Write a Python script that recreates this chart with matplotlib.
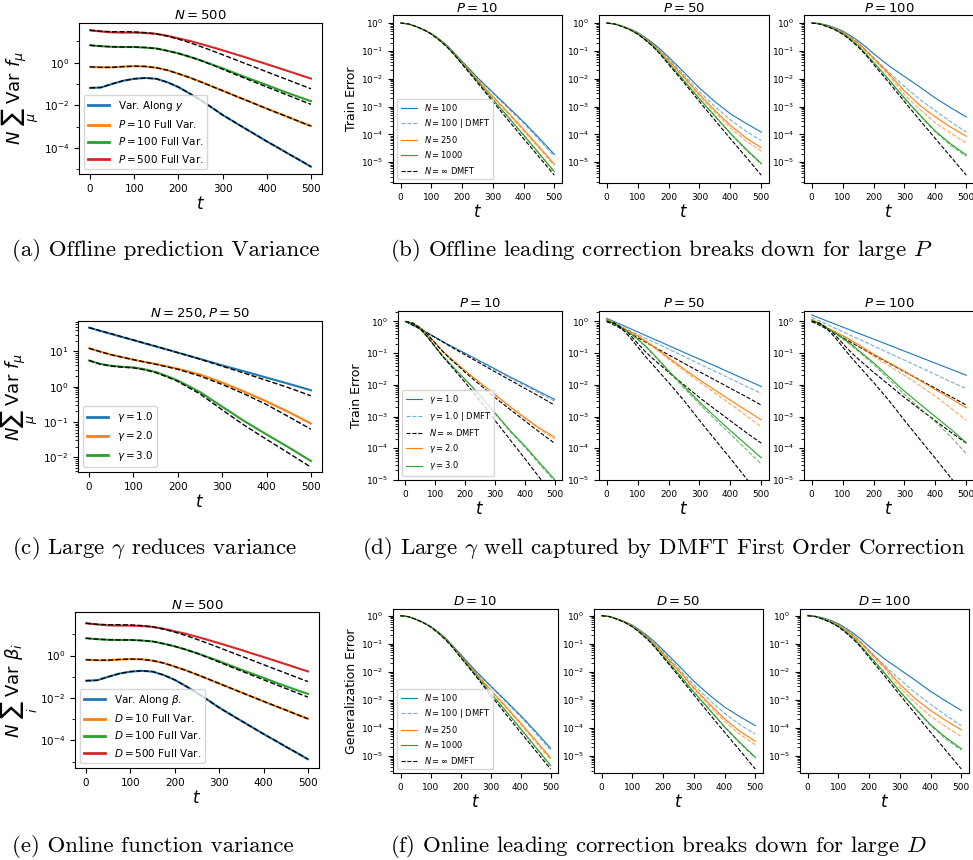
"""
Finite-width variance and DMFT correction figure (six panels, twelve axes).
Values are read off the reference figure by eye.
"""

import matplotlib
matplotlib.use("Agg")
import matplotlib.pyplot as plt
from matplotlib.ticker import NullFormatter

W, H = 973, 860
C0, C1, C2, C3 = "#1f77b4", "#ff7f0e", "#2ca02c", "#d62728"

# time grids
T_FINE = [0, 25, 50, 75, 100, 125, 150, 175, 200, 225, 250,
          275, 300, 325, 350, 375, 400, 425, 450, 475, 500]
T = [0, 25, 50, 75, 100, 125, 150, 175, 200, 250, 300, 350, 400, 450, 500]

# ---- (a) / (e): variance of predictions ----
VAR_ALONG = [0.065, 0.068, 0.10, 0.141, 0.174, 0.19, 0.174, 0.12, 0.071, 0.036, 0.0174,
             7.9e-3, 3.5e-3, 1.7e-3, 8.3e-4, 4.1e-4, 2.0e-4, 1.02e-4, 5.1e-5, 2.6e-5, 1.3e-5]
VAR_P10 = [0.63, 0.60, 0.60, 0.65, 0.68, 0.66, 0.575, 0.44, 0.30, 0.20, 0.126,
           0.078, 0.048, 0.0295, 0.0182, 0.0112, 6.9e-3, 4.3e-3, 2.7e-3, 1.66e-3, 1.05e-3]
VAR_P100 = [6.5, 5.9, 5.5, 5.4, 5.4, 5.1, 4.6, 3.6, 2.7, 1.9, 1.29,
            0.83, 0.54, 0.34, 0.214, 0.138, 0.089, 0.056, 0.036, 0.0234, 0.0155]
VAR_P100_TH = [6.5, 5.9, 5.5, 5.4, 5.4, 5.1, 4.6, 3.6, 2.7, 1.9, 1.26,
               0.80, 0.49, 0.30, 0.186, 0.116, 0.072, 0.045, 0.028, 0.0175, 0.011]
VAR_P500 = [33, 29, 26.3, 25.7, 25.7, 24.5, 22.4, 18.2, 13.8, 10.5, 7.6,
            5.4, 3.8, 2.63, 1.82, 1.23, 0.85, 0.575, 0.39, 0.263, 0.178]
VAR_P500_TH = [33, 29.5, 28.2, 28.2, 27.5, 25.7, 22.4, 17.4, 12.6, 8.7, 5.75,
               3.7, 2.35, 1.48, 0.93, 0.59, 0.37, 0.234, 0.148, 0.093, 0.059]

# ---- (b) / (f): train error vs N for three P ----
ERR_INF = [1.0, 0.93, 0.75, 0.575, 0.40, 0.245, 0.14, 0.071, 0.033,
           7.2e-3, 1.5e-3, 3.2e-4, 7.0e-5, 1.55e-5, 3.4e-6]

ERR_P10_N100 = [1.0, 0.93, 0.76, 0.58, 0.42, 0.27, 0.16, 0.083, 0.042,
                0.011, 3.2e-3, 9.5e-4, 2.8e-4, 7.5e-5, 1.9e-5]
ERR_P10_N100_DMFT = [1.0, 0.93, 0.76, 0.58, 0.42, 0.268, 0.158, 0.082, 0.041,
                     0.0105, 3.0e-3, 8.7e-4, 2.5e-4, 6.5e-5, 1.6e-5]
ERR_P10_N250 = [1.0, 0.93, 0.755, 0.575, 0.41, 0.26, 0.15, 0.078, 0.038,
                9.2e-3, 2.3e-3, 6.0e-4, 1.5e-4, 3.6e-5, 8.5e-6]
ERR_P10_N250_DMFT = [1.0, 0.93, 0.755, 0.575, 0.41, 0.258, 0.149, 0.076, 0.037,
                     8.8e-3, 2.15e-3, 5.5e-4, 1.35e-4, 3.2e-5, 7.5e-6]
ERR_P10_N1000 = [1.0, 0.93, 0.75, 0.57, 0.40, 0.25, 0.145, 0.074, 0.035,
                 8.0e-3, 1.8e-3, 4.2e-4, 9.5e-5, 2.1e-5, 4.6e-6]
ERR_P10_N1000_DMFT = [1.0, 0.93, 0.75, 0.57, 0.40, 0.25, 0.145, 0.073, 0.0345,
                      7.8e-3, 1.75e-3, 4.0e-4, 9.0e-5, 2.0e-5, 4.3e-6]

ERR_P50_N100 = [1.0, 0.94, 0.78, 0.62, 0.46, 0.30, 0.19, 0.11, 0.060,
                0.017, 4.6e-3, 1.5e-3, 5.5e-4, 2.5e-4, 1.2e-4]
ERR_P50_N100_DMFT = [1.0, 0.935, 0.77, 0.60, 0.44, 0.285, 0.175, 0.097, 0.052,
                     0.0135, 3.4e-3, 1.0e-3, 3.3e-4, 1.3e-4, 6.0e-5]
ERR_P50_N250 = [1.0, 0.935, 0.77, 0.60, 0.43, 0.275, 0.165, 0.088, 0.046,
                0.0115, 2.7e-3, 7.2e-4, 2.1e-4, 7.5e-5, 3.3e-5]
ERR_P50_N250_DMFT = [1.0, 0.935, 0.765, 0.595, 0.425, 0.27, 0.16, 0.084, 0.043,
                     0.0105, 2.4e-3, 6.2e-4, 1.7e-4, 5.8e-5, 2.5e-5]
ERR_P50_N1000 = [1.0, 0.93, 0.755, 0.58, 0.41, 0.255, 0.15, 0.076, 0.037,
                 8.5e-3, 1.9e-3, 4.6e-4, 1.1e-4, 3.0e-5, 9.0e-6]
ERR_P50_N1000_DMFT = [1.0, 0.93, 0.755, 0.58, 0.41, 0.254, 0.149, 0.075, 0.0365,
                      8.3e-3, 1.85e-3, 4.4e-4, 1.05e-4, 2.8e-5, 8.3e-6]

ERR_P100_N100 = [1.05, 0.955, 0.84, 0.68, 0.52, 0.355, 0.23, 0.14, 0.080,
                 0.029, 0.012, 5.0e-3, 2.0e-3, 9.0e-4, 4.2e-4]
ERR_P100_N100_DMFT = [1.0, 0.95, 0.80, 0.635, 0.47, 0.31, 0.20, 0.11, 0.058,
                      0.017, 5.3e-3, 1.8e-3, 7.0e-4, 2.8e-4, 1.2e-4]
ERR_P100_N250 = [1.0, 0.945, 0.79, 0.625, 0.46, 0.30, 0.19, 0.104, 0.055,
                 0.015, 3.6e-3, 1.1e-3, 4.2e-4, 1.8e-4, 8.5e-5]
ERR_P100_N250_DMFT = [1.0, 0.94, 0.78, 0.615, 0.45, 0.29, 0.18, 0.096, 0.050,
                      0.013, 2.7e-3, 7.8e-4, 2.6e-4, 1.1e-4, 4.9e-5]
ERR_P100_N1000 = [1.0, 0.935, 0.76, 0.585, 0.42, 0.26, 0.155, 0.079, 0.039,
                  9.2e-3, 2.0e-3, 5.0e-4, 1.3e-4, 4.5e-5, 1.8e-5]
ERR_P100_N1000_DMFT = [1.0, 0.935, 0.76, 0.585, 0.42, 0.258, 0.153, 0.077, 0.038,
                       9.0e-3, 1.9e-3, 4.7e-4, 1.2e-4, 4.0e-5, 1.6e-5]

# ---- (c): variance vs gamma ----
VAR_G1 = [47, 38, 31, 25.3, 20.7, 16.9, 13.8, 11.3, 9.2, 6.1, 4.0, 2.7, 1.8, 1.2, 0.79]
VAR_G1_TH = [47, 38.5, 31.5, 25.7, 21, 17.1, 14, 11.3, 9.2, 6.0, 3.8, 2.4, 1.5, 0.93, 0.55]
VAR_G2 = [12.2, 9.8, 8.0, 6.8, 5.8, 5.0, 4.4, 3.75, 3.2, 2.2, 1.3, 0.72, 0.38, 0.19, 0.09]
VAR_G2_TH = [12.2, 9.8, 8.0, 6.8, 5.8, 5.0, 4.3, 3.65, 3.1, 2.0, 1.15, 0.62, 0.31, 0.14, 0.062]
VAR_G3 = [5.5, 4.4, 3.9, 3.65, 3.5, 3.1, 2.6, 2.0, 1.5, 0.70, 0.27, 0.105, 0.044, 0.019, 0.0078]
VAR_G3_TH = [5.5, 4.35, 3.8, 3.55, 3.4, 3.0, 2.5, 1.9, 1.4, 0.62, 0.22, 0.08, 0.032, 0.013, 0.0052]

# ---- (d): train error vs gamma for three P ----
INF_G1 = [1.0, 0.76, 0.57, 0.425, 0.31, 0.226, 0.164, 0.12, 0.089,
          0.048, 0.026, 0.0143, 7.8e-3, 4.3e-3, 2.3e-3]
INF_G2 = [1.0, 0.89, 0.63, 0.38, 0.204, 0.112, 0.066, 0.041, 0.025,
          0.010, 4.0e-3, 1.7e-3, 7.4e-4, 3.2e-4, 1.45e-4]
INF_G3 = [1.0, 0.87, 0.575, 0.316, 0.158, 0.079, 0.042, 0.0224, 0.012,
          3.2e-3, 7.6e-4, 1.9e-4, 4.8e-5, 1.17e-5, 2.8e-6]

G_P10_G1 = [1.0, 0.76, 0.575, 0.43, 0.316, 0.234, 0.174, 0.132, 0.10,
            0.056, 0.032, 0.018, 0.0105, 6.0e-3, 3.5e-3]
G_P10_G1_DMFT = [1.0, 0.76, 0.575, 0.43, 0.314, 0.232, 0.171, 0.129, 0.097,
                 0.054, 0.030, 0.0168, 9.6e-3, 5.4e-3, 3.1e-3]
G_P10_G2 = [1.0, 0.89, 0.63, 0.38, 0.21, 0.117, 0.071, 0.045, 0.028,
            0.0117, 5.0e-3, 2.1e-3, 9.3e-4, 4.3e-4, 2.25e-4]
G_P10_G2_DMFT = [1.0, 0.89, 0.63, 0.38, 0.21, 0.116, 0.070, 0.044, 0.0275,
                 0.0114, 4.8e-3, 2.0e-3, 8.8e-4, 4.0e-4, 1.95e-4]
G_P10_G3 = [1.0, 0.87, 0.575, 0.316, 0.158, 0.081, 0.046, 0.026, 0.0151,
            4.7e-3, 1.32e-3, 3.7e-4, 1.2e-4, 3.5e-5, 1.05e-5]
G_P10_G3_DMFT = [1.0, 0.87, 0.575, 0.316, 0.158, 0.080, 0.045, 0.0255, 0.0147,
                 4.5e-3, 1.25e-3, 3.45e-4, 1.1e-4, 3.1e-5, 9.2e-6]

G_P50_G1 = [1.26, 0.98, 0.77, 0.60, 0.47, 0.365, 0.285, 0.224, 0.174,
            0.106, 0.065, 0.040, 0.024, 0.0146, 8.9e-3]
G_P50_G1_DMFT = [1.15, 0.88, 0.67, 0.51, 0.39, 0.30, 0.23, 0.176, 0.135,
                 0.0785, 0.0457, 0.0269, 0.0157, 9.1e-3, 5.4e-3]
G_P50_G2 = [1.17, 0.87, 0.63, 0.48, 0.355, 0.245, 0.166, 0.11, 0.072,
            0.0316, 0.0145, 6.8e-3, 3.3e-3, 1.6e-3, 7.9e-4]
G_P50_G2_DMFT = [1.10, 0.83, 0.60, 0.455, 0.34, 0.23, 0.155, 0.102, 0.066,
                 0.028, 0.0123, 5.5e-3, 2.5e-3, 1.1e-3, 4.7e-4]
G_P50_G3 = [1.10, 0.83, 0.60, 0.43, 0.28, 0.17, 0.095, 0.052, 0.028,
            8.9e-3, 2.9e-3, 1.0e-3, 3.6e-4, 1.35e-4, 5.0e-5]
G_P50_G3_DMFT = [1.05, 0.80, 0.58, 0.415, 0.27, 0.162, 0.090, 0.049, 0.026,
                 8.0e-3, 2.5e-3, 8.2e-4, 2.8e-4, 9.5e-5, 3.2e-5]

G_P100_G1 = [1.6, 1.285, 1.03, 0.83, 0.667, 0.536, 0.43, 0.346, 0.278,
             0.18, 0.116, 0.0748, 0.0483, 0.0312, 0.0201]
G_P100_G1_DMFT = [1.34, 1.035, 0.80, 0.617, 0.477, 0.367, 0.284, 0.219, 0.169,
                  0.1007, 0.060, 0.0358, 0.0214, 0.0126, 7.6e-3]
G_P100_G2 = [1.17, 0.87, 0.63, 0.48, 0.355, 0.263, 0.186, 0.132, 0.093,
             0.050, 0.027, 0.0138, 7.1e-3, 3.7e-3, 1.9e-3]
G_P100_G2_DMFT = [1.12, 0.84, 0.61, 0.465, 0.34, 0.245, 0.17, 0.118, 0.080,
                  0.040, 0.020, 9.5e-3, 4.4e-3, 1.85e-3, 7.6e-4]
G_P100_G3 = [1.10, 0.83, 0.60, 0.44, 0.30, 0.20, 0.126, 0.079, 0.050,
             0.0178, 6.3e-3, 2.5e-3, 1.0e-3, 4.0e-4, 1.5e-4]
G_P100_G3_DMFT = [1.05, 0.80, 0.58, 0.425, 0.28, 0.185, 0.115, 0.071, 0.044,
                  0.015, 5.0e-3, 1.85e-3, 6.9e-4, 2.3e-4, 6.8e-5]

CAPTIONS = [
    (12, 250, "(a) Offline prediction Variance"),
    (390, 250, "(b) Offline leading correction breaks down for large $P$"),
    (12, 548, r"(c) Large $\gamma$ reduces variance"),
    (362, 548, r"(d) Large $\gamma$ well captured by DMFT First Order Correction"),
    (12, 847, "(e) Online function variance"),
    (390, 847, "(f) Online leading correction breaks down for large $D$"),
]

fig = plt.figure(figsize=(W / 100, H / 100), dpi=100)


def add_ax(left, top, right, bottom):
    return fig.add_axes([left / W, 1 - bottom / H, (right - left) / W, (bottom - top) / H])


def variance_panel(ax, t, curves, labels, title, ylabel, ylim, title_pad=3,
                   odd_decades=True, ylabel_pad=2):
    for (solid, theory, color), lab in zip(curves, labels):
        ax.plot(t, solid, color=color, lw=1.5, label=lab)
        ax.plot(t, theory, "k--", lw=1.0)
    ax.set_yscale("log")
    ax.set_ylim(*ylim)
    if odd_decades:
        ax.set_yticks([1e-4, 1e-2, 1e0])
        ax.set_yticks([1e-5, 1e-3, 1e-1, 1e1], minor=True)
        ax.yaxis.set_minor_formatter(NullFormatter())
    ax.set_xticks([0, 100, 200, 300, 400, 500])
    ax.tick_params(labelsize=7.5)
    ax.set_title(title, fontsize=9.5, pad=title_pad)
    ax.set_xlabel("$t$", fontsize=12, labelpad=1)
    ax.set_ylabel(ylabel, fontsize=13, labelpad=ylabel_pad)
    leg = ax.legend(loc="lower left", fontsize=7.5)
    for line in leg.get_lines():
        line.set_linewidth(2.0)


def error_panel(ax, series, styles, title, ylabel, ylim, labels, title_pad=3):
    # series: list of arrays, styles: list of (color, linestyle, alpha)
    for y, (color, ls, alpha), lab in zip(series, styles, labels):
        ax.plot(T, y, color=color, ls=ls, lw=0.8, alpha=alpha, label=lab)
    ax.set_yscale("log")
    ax.set_ylim(*ylim)
    ax.set_xticks([0, 100, 200, 300, 400, 500])
    ax.tick_params(labelsize=6.5)
    ax.set_title(title, fontsize=9.5, pad=title_pad)
    ax.set_xlabel("$t$", fontsize=12, labelpad=1)
    if ylabel:
        ax.set_ylabel(ylabel, fontsize=9, labelpad=2)
        ax.legend(loc="lower left", fontsize=6)


# ---- row 1 ----
var_curves = [(VAR_ALONG, VAR_ALONG, C0), (VAR_P10, VAR_P10, C1),
              (VAR_P100, VAR_P100_TH, C2), (VAR_P500, VAR_P500_TH, C3)]
variance_panel(add_ax(79, 23, 322, 174), T_FINE, var_curves,
               ["Var. Along $y$", "$P = 10$ Full Var.", "$P = 100$ Full Var.", "$P = 500$ Full Var."],
               "$N = 500$", r"$N\ \sum_{\mu}\ \mathrm{Var}\ f_{\mu}$", (10 ** -5.23, 10 ** 1.86))

n_styles = [(C0, "-", 1.0), (C0, "--", 0.6), (C1, "-", 1.0), (C1, "--", 0.7),
            (C2, "-", 1.0), (C2, "--", 0.7), ("k", "--", 1.0)]
n_labels = ["$N = 100$", "$N = 100$ | DMFT", "$N = 250$", None, "$N = 1000$", None,
            r"$N = \infty$ DMFT"]
err_sets = [
    [ERR_P10_N100, ERR_P10_N100_DMFT, ERR_P10_N250, ERR_P10_N250_DMFT,
     ERR_P10_N1000, ERR_P10_N1000_DMFT, ERR_INF],
    [ERR_P50_N100, ERR_P50_N100_DMFT, ERR_P50_N250, ERR_P50_N250_DMFT,
     ERR_P50_N1000, ERR_P50_N1000_DMFT, ERR_INF],
    [ERR_P100_N100, ERR_P100_N100_DMFT, ERR_P100_N250, ERR_P100_N250_DMFT,
     ERR_P100_N1000, ERR_P100_N1000_DMFT, ERR_INF],
]
row1 = [(393, 562), (599, 769), (804, 974)]
for i, ((l, r), s, p) in enumerate(zip(row1, err_sets, ["10", "50", "100"])):
    error_panel(add_ax(l, 15, r, 183), s, n_styles, f"$P = {p}$",
                "Train Error" if i == 0 else None, (10 ** -5.75, 10 ** 0.29), n_labels,
                title_pad=1.5)

# ---- row 2 ----
gamma_curves = [(VAR_G1, VAR_G1_TH, C0), (VAR_G2, VAR_G2_TH, C1), (VAR_G3, VAR_G3_TH, C2)]
variance_panel(add_ax(78, 321, 322, 472), T, gamma_curves,
               [r"$\gamma = 1.0$", r"$\gamma = 2.0$", r"$\gamma = 3.0$"],
               "$N = 250, P = 50$", r"$N\sum_{\mu}\ \mathrm{Var}\ f_{\mu}$",
               (10 ** -2.42, 10 ** 1.86), odd_decades=False)

g_styles = [(C0, "-", 1.0), (C0, "--", 0.6), ("k", "--", 1.0),
            (C1, "-", 1.0), (C1, "--", 0.7), ("k", "--", 1.0),
            (C2, "-", 1.0), (C2, "--", 0.7), ("k", "--", 1.0)]
g_labels = [r"$\gamma = 1.0$", r"$\gamma = 1.0$ | DMFT", r"$N = \infty$ DMFT",
            r"$\gamma = 2.0$", None, None, r"$\gamma = 3.0$", None, None]
gamma_sets = [
    [G_P10_G1, G_P10_G1_DMFT, INF_G1, G_P10_G2, G_P10_G2_DMFT, INF_G2,
     G_P10_G3, G_P10_G3_DMFT, INF_G3],
    [G_P50_G1, G_P50_G1_DMFT, INF_G1, G_P50_G2, G_P50_G2_DMFT, INF_G2,
     G_P50_G3, G_P50_G3_DMFT, INF_G3],
    [G_P100_G1, G_P100_G1_DMFT, INF_G1, G_P100_G2, G_P100_G2_DMFT, INF_G2,
     G_P100_G3, G_P100_G3_DMFT, INF_G3],
]
row2 = [(398, 562), (599, 769), (804, 974)]
for i, ((l, r), s, p) in enumerate(zip(row2, gamma_sets, ["10", "50", "100"])):
    error_panel(add_ax(l, 311, r, 480), s, g_styles, f"$P = {p}$",
                "Train Error" if i == 0 else None, (1e-5, 10 ** 0.33), g_labels)

# ---- row 3 (online) ----
variance_panel(add_ax(75, 612, 319, 768), T_FINE, var_curves,
               [r"Var. Along $\beta$.", "$D = 10$ Full Var.", "$D = 100$ Full Var.",
                "$D = 500$ Full Var."],
               "$N = 500$", r"$N\ \sum_{i}\ \mathrm{Var}\ \beta_i$", (10 ** -5.3, 10 ** 2.05),
               title_pad=1, ylabel_pad=0)

row3 = [(393, 558), (594, 763), (800, 969)]
for i, ((l, r), s, d) in enumerate(zip(row3, err_sets, ["10", "50", "100"])):
    error_panel(add_ax(l, 609, r, 773), s, n_styles, f"$D = {d}$",
                "Generalization Error" if i == 0 else None, (10 ** -5.61, 10 ** 0.24), n_labels)

for x, y, text in CAPTIONS:
    fig.text(x / W, 1 - y / H, text, fontsize=16.5, family="cmr10", math_fontfamily="cm",
             ha="left", va="center")

fig.savefig("out.png", dpi=100)
